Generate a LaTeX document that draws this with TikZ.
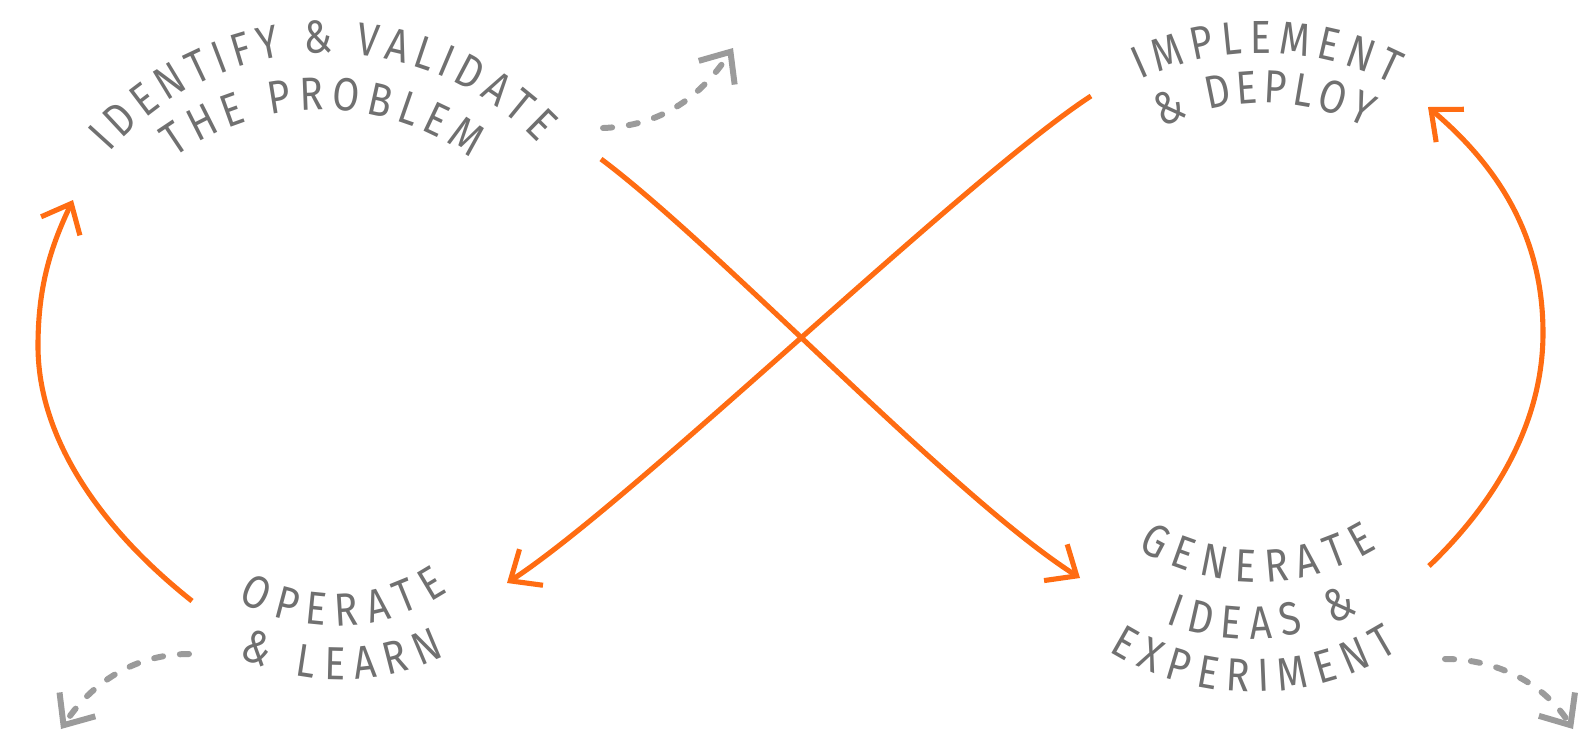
\documentclass[tikz,border=0pt]{standalone}
\usepackage{fontspec}
\usetikzlibrary{arrows.meta,calc,decorations.text}
\newfontfamily\lblfont{Fira Sans}[Scale=1.32, FakeStretch=0.84]
\definecolor{loopcolor}{RGB}{255,108,18}
\definecolor{labelgray}{RGB}{112,112,112}
\definecolor{exitgray}{RGB}{155,155,155}
\tikzset{
  cyclearrow/.style={draw=loopcolor, line width=1.45pt,
    -{Straight Barb[length=2.5mm, width=4.3mm, line cap=butt, line join=miter]}},
  exitarrow/.style={draw=exitgray, line width=1.7pt, line cap=round,
    dash pattern=on 2.6pt off 4.8pt,
    -{Straight Barb[length=2.5mm, width=4.3mm, line cap=butt, line join=miter]}},
  looptext/.style={decorate, decoration={text along path, text={|\lblfont|#1},
    text color=labelgray, text align=fit to path}}
}

\begin{document}
\begin{tikzpicture}[x=0.01cm, y=0.01cm]
\useasboundingbox (0,0) rectangle (1584,738);
% centres of the text arcs
\coordinate (idc) at (328,396);
\coordinate (pbc) at (322,377);
\coordinate (imc) at (1262,398);
\coordinate (dpc) at (1264,416);
\coordinate (opc) at (335,315);
\coordinate (lnc) at (340,297);
\coordinate (gnc) at (1257,389);
\coordinate (iec) at (1250,335);
\coordinate (exc) at (1253,320);
% labels
\path[looptext={IDENTIFY {\&} VALIDATE}] ($(idc)+(139:289)$) arc[start angle=139, end angle=43.4, radius=289];
\path[looptext={THE PROBLEM}] ($(pbc)+(126:251)$) arc[start angle=126, end angle=53.7, radius=251];
\path[looptext={IMPLEMENT}] ($(imc)+(115:287)$) arc[start angle=115, end angle=62.8, radius=287];
\path[looptext={{\&} DEPLOY}] ($(dpc)+(117.6:219)$) arc[start angle=117.6, end angle=62.4, radius=219];
\path[looptext={OPERATE}] ($(opc)+(241.4:203)$) arc[start angle=241.4, end angle=303.8, radius=203];
\path[looptext={{\&} LEARN}] ($(lnc)+(244.8:239)$) arc[start angle=244.8, end angle=296, radius=239];
\path[looptext={GENERATE}] ($(gnc)+(239.1:233)$) arc[start angle=239.1, end angle=301.3, radius=233];
\path[looptext={IDEAS {\&}}] ($(iec)+(249:236)$) arc[start angle=249, end angle=297.3, radius=236];
\path[looptext={EXPERIMENT}] ($(exc)+(238.2:274)$) arc[start angle=238.2, end angle=302.2, radius=274];
% ends of the loop
\coordinate (opend) at (192,137);
\coordinate (leftmost) at (38,392);
\coordinate (idtip) at (73,538);
\coordinate (idend) at (601,579);
\coordinate (gntip) at (1080,160);
\coordinate (gnend) at (1429,172);
\coordinate (rightmost) at (1543,405);
\coordinate (imtip) at (1428,631);
\coordinate (imend) at (1091,642);
\coordinate (optip) at (507,155);
\draw[cyclearrow] (opend) .. controls (100,210) and (38,300) .. (leftmost)
  .. controls (38,450) and (50,490) .. (idtip);
\draw[cyclearrow] (idend) .. controls (721,489) and (953,241) .. (gntip);
\draw[cyclearrow] (gnend) .. controls (1500,240) and (1543,320) .. (rightmost)
  .. controls (1543,500) and (1500,570) .. (imtip);
\draw[cyclearrow] (imend) .. controls (965,560) and (633,237) .. (optip);
% ways out
\coordinate (idexit) at (603,610);
\coordinate (idout) at (733,690);
\coordinate (opexit) at (189,84);
\coordinate (opout) at (61,9);
\coordinate (gnexit) at (1445,79);
\coordinate (gnout) at (1573,9);
\draw[exitarrow] (idexit) .. controls (660,612) and (700,640) .. (idout);
\draw[exitarrow] (opexit) .. controls (140,84) and (95,60) .. (opout);
\draw[exitarrow] (gnexit) .. controls (1490,79) and (1540,60) .. (gnout);
\end{tikzpicture}
\end{document}
